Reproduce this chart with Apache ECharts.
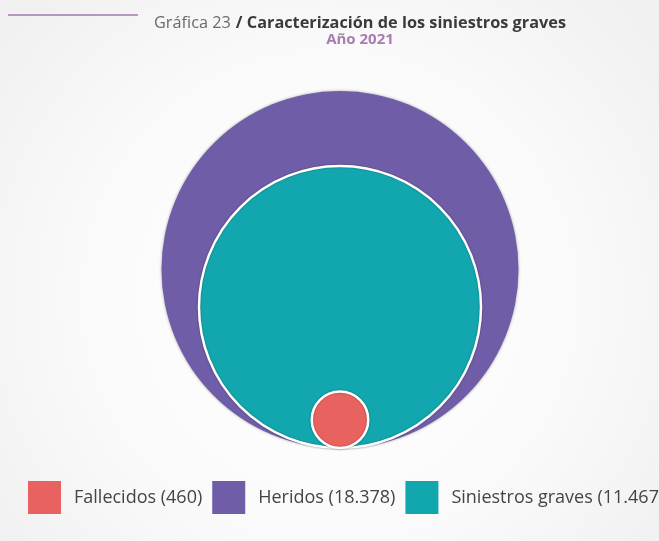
<!DOCTYPE html>
<html>
<head>
<meta charset="utf-8">
<script src="https://cdn.jsdelivr.net/npm/echarts@6/dist/echarts.min.js"></script>
<style>
    html, body { margin: 0; padding: 0; }
    #chart { width: 659px; height: 541px; }
</style>
</head>
<body>
<div id="chart"></div>
<script>
// datos del gráfico
var categorias = ['Fallecidos', 'Heridos', 'Siniestros graves']
var valores = [460, 18378, 11467]
var colores = ['#e8625f', '#6f5da8', '#12a6ae']
// orden de dibujo: del mayor al menor
var ordenDibujo = [1, 2, 0]

function formatoMiles (n) {
    return String(n).replace(/\B(?=(\d{3})+(?!\d))/g, '.')
}

var myChart = echarts.init(document.getElementById('chart'))

var series = ordenDibujo.map(function (i) {
    return {
        name: categorias[i],
        type: 'custom',
        coordinateSystem: 'cartesian2d',
        itemStyle: { color: colores[i] },
        z: 2 + ordenDibujo.indexOf(i),
        data: [[0, valores[i]]],
        renderItem: function (params, api) {
            // radio proporcional a la raíz del valor, círculos apoyados en la base
            var r = Math.sqrt(api.value(1))
            var centro = api.coord([0, r])
            var rPx = api.size([0, r])[1]
            var esMayor = i === 1
            return {
                type: 'circle',
                shape: { cx: centro[0], cy: centro[1], r: rPx },
                style: {
                    fill: colores[i],
                    stroke: esMayor ? null : '#ffffff',
                    lineWidth: esMayor ? 0 : 2.5,
                    shadowBlur: esMayor ? 3 : 2,
                    shadowColor: 'rgba(0,0,0,0.35)'
                }
            }
        }
    }
})

var option = {
    backgroundColor: {
        type: 'radial',
        x: 0.5, y: 0.55, r: 0.75,
        colorStops: [
            { offset: 0, color: '#ffffff' },
            { offset: 0.6, color: '#fafafa' },
            { offset: 1, color: '#f1f1f1' }
        ]
    },
    animation: false,
    title: {
        text: '{n|Gráfica 23} {b|/ Caracterización de los siniestros graves}',
        subtext: 'Año 2021',
        left: 355,
        textAlign: 'center',
        top: 9,
        itemGap: 0,
        textStyle: {
            rich: {
                n: { fontFamily: 'Open Sans', fontSize: 16.3, fontWeight: 'normal', color: '#6a6a6a' },
                b: { fontFamily: 'Open Sans', fontSize: 16.3, fontWeight: 'bold', color: '#3a3a3a' }
            }
        },
        subtextStyle: {
            fontFamily: 'Open Sans',
            fontSize: 15,
            fontWeight: 'bold',
            color: '#a87db0'
        }
    },
    graphic: [{
        type: 'line',
        shape: { x1: 8, y1: 15, x2: 138, y2: 15 },
        style: { stroke: '#a07aa9', lineWidth: 1.5 }
    }],
    grid: {
        left: 140,
        right: 119,
        top: 53,
        bottom: 93
    },
    xAxis: {
        type: 'value',
        min: -1,
        max: 1,
        show: false
    },
    yAxis: {
        type: 'value',
        min: 0,
        max: 300,
        show: false
    },
    legend: {
        data: categorias,
        left: 28,
        top: 481,
        width: 900,
        padding: 0,
        itemWidth: 33,
        itemHeight: 33,
        itemGap: 10,
        icon: 'rect',
        formatter: function (name) {
            return name + ' (' + formatoMiles(valores[categorias.indexOf(name)]) + ')'
        },
        textStyle: {
            fontFamily: 'Open Sans',
            fontSize: 18,
            color: '#444444',
            padding: [0, 0, 0, 8]
        }
    },
    series: series
}

myChart.setOption(option)
</script>
</body>
</html>
